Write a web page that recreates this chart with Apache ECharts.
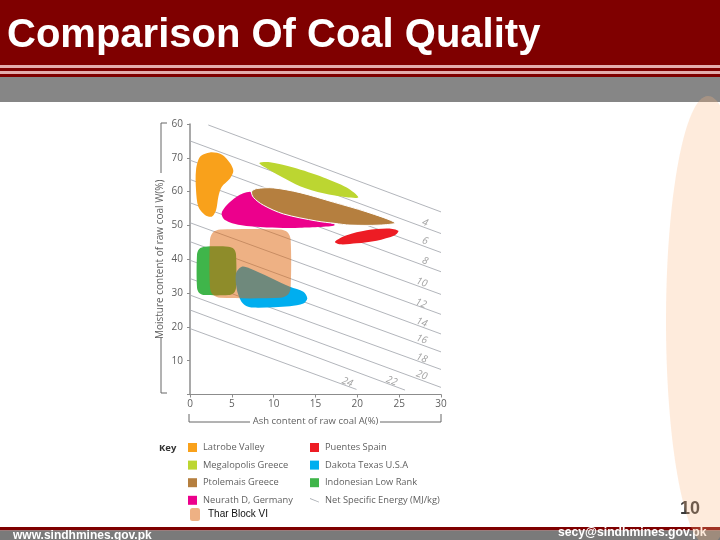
<![CDATA[<!DOCTYPE html>
<html><head><meta charset="utf-8">
<style>html,body{margin:0;padding:0;background:#fff}#c{width:720px;height:540px}</style>
<script src="https://cdn.jsdelivr.net/npm/echarts@6/dist/echarts.min.js"></script>
</head><body><div id="c"></div>
<script>
const titleText = 'Comparison Of Coal Quality';
const yTickLabels = ['', '10', '20', '30', '40', '50', '60', '70', '60'];
const xAxisName = 'Ash content of raw coal A(%)';
const yAxisName = 'Moisture content of raw coal W(%)';
const energyName = 'Net Specific Energy (MJ/kg)';

const latrobe = [[2.39,71.6],[3.78,71.0],[4.78,68.5],[5.18,66.1],[4.78,63.9],[3.78,61.4],[3.39,58.5],[3.11,54.5],[2.59,52.6],[1.79,53.1],[1.0,55.5],[0.72,60.5],[0.72,66.4],[1.2,70.3]];
const megalopolis = [[8.29,68.5],[9.56,68.7],[12.35,67.1],[15.94,64.2],[18.73,61.2],[20.12,58.3],[18.73,58.3],[15.94,59.5],[13.15,61.6],[10.76,64.6],[8.96,67.2]];
const ptolemais = [[7.37,60.0],[7.97,60.9],[9.96,61.1],[13.15,59.7],[17.13,56.9],[21.12,54.0],[24.5,50.8],[22.71,50.1],[19.12,50.1],[17.33,50.6],[15.14,51.3],[11.16,53.4],[8.76,56.0],[7.57,58.3]];
const neurath = [[7.17,60],[6.37,59.5],[5.58,58.5],[4.38,56],[3.78,53.6],[4.18,51.6],[5.98,50.1],[9.16,49.4],[13.15,49.3],[17.33,50.1],[14.34,52.6],[11.16,55.5],[8.76,57.5],[7.37,59.5]];
const puentes = [[17.33,45.2],[18.73,47.1],[21.12,48.6],[23.7,49.1],[24.9,48.4],[24.5,47.1],[22.31,45.5],[19.92,44.7],[17.93,44.4]];
const dakota = [[5.5,35.8],[6.18,37.8],[7.17,37.3],[11.95,31.9],[13.55,30.4],[14.02,28.4],[13.55,26.9],[11.95,26.1],[7.57,25.7],[6.57,26.4],[6.05,27.9],[5.6,31]];
const indonesian = [[1.75,43.7],[4.6,43.7],[5.24,43.06],[5.5,41.5],[5.5,31.6],[5.24,30.04],[4.6,29.4],[1.75,29.4],[1.1,30.04],[0.84,31.6],[0.84,41.5],[1.1,43.06]];
const thar = [[3.6,48.8],[10.8,48.8],[11.68,47.93],[12.03,45.8],[12.03,31.6],[11.68,29.47],[10.8,28.6],[3.6,28.6],[2.74,29.47],[2.39,31.6],[2.39,45.8],[2.74,47.93]];

const energyLines = [
  [[2.19,79.7],[30,54.0]], [[0,75.0],[30,47.6]], [[0,69.3],[30,42.0]], [[0,63.6],[30,36.3]],
  [[0,56.7],[30,29.6]], [[0,50.8],[30,23.7]], [[0,45.2],[30,17.9]], [[0,39.7],[30,12.6]],
  [[0,34.3],[30,7.4]], [[0,29.4],[30,2.1]], [[0,25.0],[25.7,1.3]], [[0,19.5],[19.9,1.5]]
];
const energyLabels = [[28.1,50.8,'4'],[28.1,45.4,'6'],[28.1,39.5,'8'],[27.7,33.1,'10'],[27.6,26.9,'12'],[27.7,21.3,'14'],[27.7,16.3,'16'],[27.7,10.7,'18'],[27.7,5.7,'20'],[24.1,4.0,'22'],[18.8,3.6,'24']];

const legendLeft = ['Latrobe Valley', 'Megalopolis Greece', 'Ptolemais Greece', 'Neurath D, Germany'];
const legendRight = ['Puentes Spain', 'Dakota Texas U.S.A', 'Indonesian Low Rank'];
const tharName = 'Thar Block VI';

const gray = '#5f5f5f';
const labelFont = '"Open Sans", sans-serif';

function blob(name, pts, color, extra) {
  return {
    type: 'custom', name, coordinateSystem: 'cartesian2d', clip: false,
    itemStyle: { color }, silent: true, data: pts, encode: { x: 0, y: 1 },
    renderItem(params, api) {
      if (params.dataIndex !== 0) return null;
      return {
        type: 'polygon',
        shape: { points: pts.map(p => api.coord(p)), smooth: 0.3 },
        style: Object.assign({ fill: color }, extra || {})
      };
    }
  };
}

const series = [];
energyLines.forEach(l => series.push({
  type: 'line', name: energyName, data: l, symbol: 'none', silent: true, z: 1,
  lineStyle: { color: '#a9adb3', width: 0.9 }, itemStyle: { color: '#a9adb3' }
}));
series.push({
  type: 'scatter', name: 'energy labels', silent: true, symbolSize: 0, z: 1,
  data: energyLabels,
  label: { show: true, position: 'inside', rotate: -20, fontStyle: 'italic', fontSize: 10, color: '#8a8a8a', fontFamily: labelFont,
    formatter: p => p.value[2] }
});
series.push(
  blob(legendLeft[0], latrobe, '#f9a11b'),
  blob(legendLeft[1], megalopolis, '#bcd631'),
  blob(legendLeft[3], neurath, '#ec008c'),
  blob(legendLeft[2], ptolemais, '#b57f3f', { stroke: '#fff', lineWidth: 1 }),
  blob(legendRight[0], puentes, '#ed1c24'),
  blob(legendRight[2], indonesian, '#3fb54a'),
  blob(legendRight[1], dakota, '#00aeef'),
  blob(tharName, thar, 'rgba(221,99,9,0.5)')
);

const legendBase = {
  orient: 'vertical', itemWidth: 9, itemHeight: 9, itemGap: 8.6, icon: 'rect', selectedMode: false, padding: 0,
  textStyle: { color: gray, fontSize: 9.3, fontFamily: labelFont, padding: [0, 0, 0, 1] }
};

const g = [];
const rect = (x, y, w, h, fill) => g.push({ type: 'rect', shape: { x, y, width: w, height: h }, style: { fill }, z: 0, silent: true });
const seg = (pts) => g.push({ type: 'polyline', shape: { points: pts }, style: { stroke: '#666', lineWidth: 1, fill: null }, z: 3, silent: true });
const txt = (x, y, text, font, fill, opt) => g.push({ type: 'text', x, y, z: 1, silent: true, style: Object.assign({ text, font, fill, textVerticalAlign: 'middle', verticalAlign: 'middle' }, opt || {}) });

rect(0, 0, 720, 65, '#7f0000');
rect(0, 65, 720, 3, '#e3adad');
rect(0, 68, 720, 3, '#7f0000');
rect(0, 71, 720, 3, '#e3adad');
rect(0, 74, 720, 3, '#7f0000');
rect(0, 77, 720, 25, '#868686');
rect(0, 527, 720, 3.5, '#7f0000');
rect(0, 530.5, 720, 10, '#7a7a7a');
seg([[167, 123], [161, 123], [161, 173]]);
seg([[161, 337], [161, 393], [167, 393]]);
seg([[189, 414], [189, 422], [250, 422]]);
seg([[380, 422], [441, 422], [441, 414]]);
txt(159, 448, 'Key', 'bold 9.5px "Open Sans", sans-serif', '#333');
txt(13, 535.5, 'www.sindhmines.gov.pk', 'bold 12px "Liberation Sans", Arial, sans-serif', '#fff');
txt(558, 533, 'secy@sindhmines.gov.pk', 'bold 12.2px "Liberation Sans", Arial, sans-serif', '#fff');
txt(680, 509, '10', 'bold 18px "Liberation Sans", Arial, sans-serif', '#3a3a3a');
g.push({ type: 'ellipse', shape: { cx: 708, cy: 321, rx: 42, ry: 225 }, style: { fill: 'rgba(250,183,129,0.28)' }, z: 2, silent: true });

const chart = echarts.init(document.getElementById('c'), null, { renderer: 'canvas' });
chart.setOption({
  animation: false,
  backgroundColor: '#fff',
  title: {
    text: titleText, left: 7, top: 16, z: 10, padding: 0,
    textStyle: { color: '#fff', fontSize: 40, fontWeight: 'bold', fontFamily: '"Liberation Sans", Arial, sans-serif',
      textShadowColor: '#3c3c3c', textShadowBlur: 0, textShadowOffsetX: 2, textShadowOffsetY: 2 }
  },
  grid: { left: 190, right: 279, top: 124, bottom: 145.5 },
  xAxis: {
    type: 'value', min: 0, max: 30, interval: 5, splitLine: { show: false },
    axisLine: { lineStyle: { color: '#8c8c8c', width: 1.2 } },
    axisTick: { length: 3, lineStyle: { color: '#8c8c8c' } },
    axisLabel: { color: gray, fontSize: 10, fontFamily: labelFont, margin: 5 },
    name: xAxisName, nameLocation: 'middle', nameGap: 22,
    nameTextStyle: { color: gray, fontSize: 9.5, fontFamily: labelFont }
  },
  yAxis: {
    type: 'value', min: 0, max: 80, interval: 10, splitLine: { show: false },
    axisLine: { lineStyle: { color: '#8c8c8c', width: 1.5 } },
    axisTick: { length: 3, lineStyle: { color: '#8c8c8c' } },
    axisLabel: { color: gray, fontSize: 10, fontFamily: labelFont, margin: 7,
      formatter: v => yTickLabels[Math.round(v / 10)] },
    name: yAxisName, nameLocation: 'middle', nameGap: 25,
    nameTextStyle: { color: gray, fontSize: 10, fontFamily: labelFont }
  },
  legend: [
    Object.assign({}, legendBase, { left: 188, top: 443, data: legendLeft }),
    Object.assign({}, legendBase, { left: 310, top: 443,
      data: legendRight.concat([{ name: energyName, icon: 'path://M0,0 L10,4 L10,5 L0,1 Z' }]) }),
    Object.assign({}, legendBase, { left: 190, top: 508, itemWidth: 10, itemHeight: 13, icon: 'roundRect',
      textStyle: { color: '#111', fontSize: 10, fontFamily: '"Liberation Sans", Arial, sans-serif', padding: [0, 0, 0, 3] },
      data: [tharName] })
  ],
  series,
  graphic: { elements: g }
});
</script></body></html>]]>
